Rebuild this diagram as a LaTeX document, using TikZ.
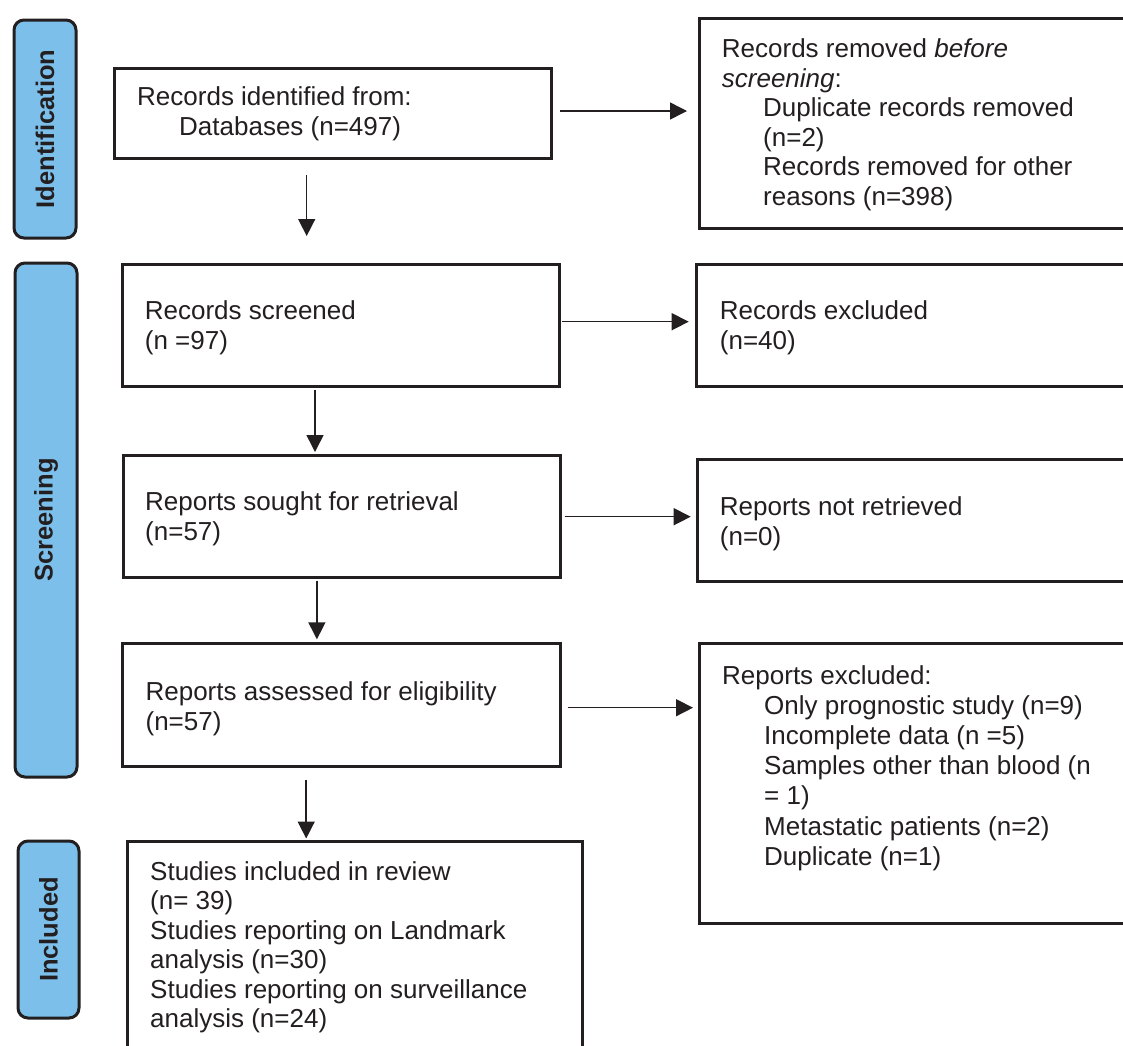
\documentclass[tikz,border=0pt]{standalone}
\usepackage{fontspec}
\setmainfont{Liberation Sans}
\usetikzlibrary{arrows.meta}
\definecolor{ink}{HTML}{231F20}
\definecolor{barblue}{HTML}{7BBFEA}
\newcommand\mlines[2]{\vtop{\baselineskip=#1pt\lineskiplimit=-50pt\lineskip=0pt\relax #2}}
\begin{document}
\begin{tikzpicture}[x=1pt,y=-1pt,
  box/.style={draw=ink, line width=3pt, inner sep=0pt, anchor=north west},
  bar/.style={draw=ink, fill=barblue, line width=3pt, rounded corners=10pt, rotate=90,
    inner sep=0pt, text=ink, font=\bfseries\fontsize{25.5}{30}\selectfont},
  txt/.style={inner sep=0pt, anchor=base west, text=ink, font=\fontsize{26}{30}\selectfont},
  arr/.style={draw=ink, line width=1.5pt, -{Triangle[length=17pt,width=17pt]}}]
\useasboundingbox (0,0) rectangle (1123,1045);
\clip (0,0) rectangle (1123,1045);
\fill[white] (0,0) rectangle (1123,1045);

% phase bars
\node[bar, minimum width=218pt, minimum height=62pt] (idbar) at (45,129) {Identification};
\node[bar, minimum width=514pt, minimum height=62pt] (scbar) at (46,520) {Screening};
\node[bar, minimum width=177pt, minimum height=61pt] (inbar) at (48.5,929.5) {Included};

% boxes
\node[box, minimum width=437pt, minimum height=90pt] (b1) at (113,67) {};
\node[box, minimum width=442pt, minimum height=210pt] (rem) at (698,16.7) {};
\node[box, minimum width=437.5pt, minimum height=122pt] (scr) at (120.5,263) {};
\node[box, minimum width=445pt, minimum height=122pt] (exc) at (695,263) {};
\node[box, minimum width=437.5pt, minimum height=122.5pt] (sought) at (121.5,453.5) {};
\node[box, minimum width=444pt, minimum height=122.3pt] (notret) at (696,457.7) {};
\node[box, minimum width=437.4pt, minimum height=122.7pt] (assess) at (121.3,642.3) {};
\node[box, minimum width=442pt, minimum height=280pt] (repexc) at (698,641.7) {};
\node[box, minimum width=454.3pt, minimum height=240pt] (stud) at (126.3,840) {};

% texts
\node[txt] (t1) at (137,105.5) {\mlines{29.5}{\hbox{Records identified from:}\hbox{\kern42pt Databases (n=497)}}};
\node[txt] (t2) at (721.7,57.5) {\mlines{29.6}{\hbox{Records removed \textit{before}}\hbox{\textit{screening}:}\hbox{\kern41.3pt Duplicate records removed}\hbox{\kern41.3pt (n=2)}\hbox{\kern41.3pt Records removed for other}\hbox{\kern41.3pt reasons (n=398)}}};
\node[txt] (t3) at (144.7,319) {\mlines{30}{\hbox{Records screened}\hbox{(n =97)}}};
\node[txt] (t4) at (719.7,319) {\mlines{30}{\hbox{Records excluded}\hbox{(n=40)}}};
\node[txt] (t5) at (145,510) {\mlines{30}{\hbox{Reports sought for retrieval}\hbox{(n=57)}}};
\node[txt] (t6) at (719.7,515) {\mlines{30}{\hbox{Reports not retrieved}\hbox{(n=0)}}};
\node[txt] (t7) at (145.4,700) {\mlines{30}{\hbox{Reports assessed for eligibility}\hbox{(n=57)}}};
\node[txt] (t8) at (722,684) {\mlines{30.2}{\hbox{Reports excluded:}\hbox{\kern42pt Only prognostic study (n=9)}\hbox{\kern42pt Incomplete data (n =5)}\hbox{\kern42pt Samples other than blood (n}\hbox{\kern42pt = 1)}\hbox{\kern42pt Metastatic patients (n=2)}\hbox{\kern42pt Duplicate (n=1)}}};
\node[txt] (t9) at (150,880) {\mlines{29.5}{\hbox{Studies included in review}\hbox{(n= 39)}\hbox{Studies reporting on Landmark}\hbox{analysis (n=30)}\hbox{Studies reporting on surveillance}\hbox{analysis (n=24)}}};

% connector guides
\coordinate (v1) at (306.7,0);
\coordinate (v2) at (315,0);
\coordinate (v3) at (316.9,0);
\coordinate (v4) at (306.2,0);
\coordinate (h1) at (0,111);
\coordinate (h2) at (0,321.7);
\coordinate (h3) at (0,516.7);
\coordinate (h4) at (0,707.7);

% vertical connectors
\draw[arr, shorten <=15pt, shorten >=27pt] (b1.south -| v1) -- (scr.north -| v1);
\draw[arr, shorten <=1.5pt, shorten >=1.5pt] (scr.south -| v2) -- (sought.north -| v2);
\draw[arr, shorten <=1.5pt, shorten >=3pt] (sought.south -| v3) -- (assess.north -| v3);
\draw[arr, shorten <=11.7pt, shorten >=1.5pt] (assess.south -| v4) -- (stud.north -| v4);

% horizontal connectors
\draw[arr, shorten <=7pt, shorten >=11pt] (b1.east |- h1) -- (rem.west |- h1);
\draw[arr, shorten <=1pt, shorten >=6.3pt] (scr.east |- h2) -- (exc.west |- h2);
\draw[arr, shorten <=2.6pt, shorten >=5.3pt] (sought.east |- h3) -- (notret.west |- h3);
\draw[arr, shorten <=5.8pt, shorten >=5pt] (assess.east |- h4) -- (repexc.west |- h4);
\end{tikzpicture}
\end{document}
